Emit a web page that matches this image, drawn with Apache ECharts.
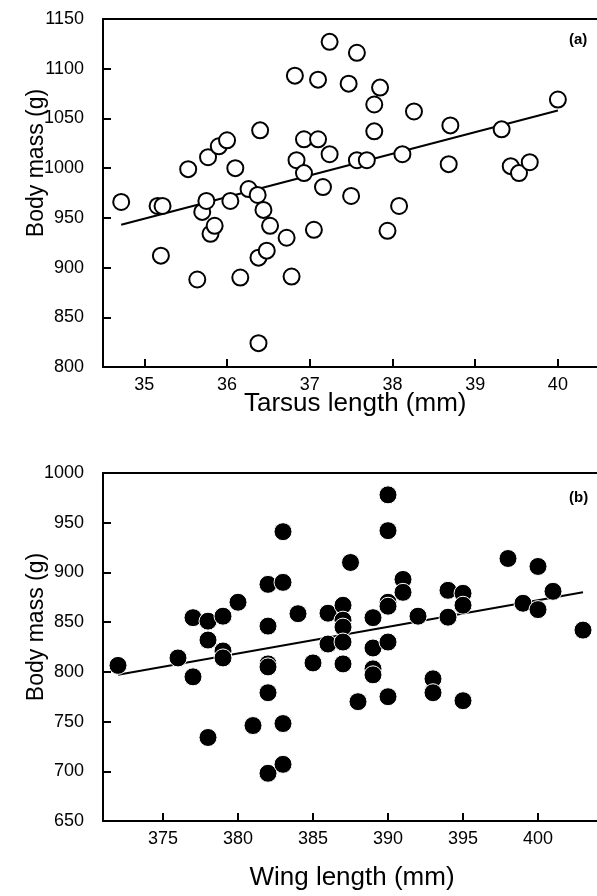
<!DOCTYPE html>
<html>
<head>
<meta charset="utf-8">
<script src="https://cdn.jsdelivr.net/npm/echarts@6/dist/echarts.min.js"></script>
<style>
  html, body { margin: 0; padding: 0; background: #fff; }
  #chart { width: 597px; height: 896px; }
</style>
</head>
<body>
<div id="chart"></div>
<script>
// panel (a): tarsus length (mm) vs body mass (g)
var tarsusX = [34.72, 35.16, 35.22, 35.20, 35.53, 35.64, 35.70, 35.75, 35.77, 35.80, 35.85, 35.90, 36.00, 36.04,
  36.10, 36.16, 36.26, 36.37, 36.38, 36.38, 36.40, 36.44, 36.48, 36.52, 36.72, 36.78, 36.82, 36.84, 36.93, 36.93,
  37.05, 37.10, 37.10, 37.16, 37.24, 37.24, 37.47, 37.50, 37.57, 37.57, 37.69, 37.78, 37.78, 37.85, 37.94, 38.08,
  38.12, 38.26, 38.68, 38.70, 39.32, 39.43, 39.53, 39.66, 40.00];
var tarsusMass = [966, 962, 962, 912, 999, 888, 956, 967, 1011, 934, 942, 1022, 1028, 967,
  1000, 890, 979, 973, 910, 824, 1038, 958, 917, 942, 930, 891, 1093, 1008, 995, 1029,
  938, 1089, 1029, 981, 1127, 1014, 1085, 972, 1116, 1008, 1008, 1064, 1037, 1081, 937, 962,
  1014, 1057, 1004, 1043, 1039, 1002, 995, 1006, 1069];
var tarsusFitX = [34.72, 40.0];
var tarsusFitY = [943, 1058];

// panel (b): wing length (mm) vs body mass (g)
var wingX = [372, 376, 377, 377, 378, 378, 378, 379, 379, 379, 380, 381, 382, 382, 382, 382, 382, 382,
  383, 383, 383, 383, 384, 385, 386, 386, 387, 387, 387, 387, 387, 387.5, 388, 389, 389, 389, 389,
  390, 390, 390, 390, 390, 390, 391, 391, 392, 393, 393, 394, 394, 395, 395, 395, 398, 399, 400, 400, 401, 403];
var wingMass = [806.5, 814, 795, 854.5, 851, 832, 734, 856, 821, 814, 870, 746, 888, 846, 808, 805, 779, 698,
  941, 890, 748, 707, 858.5, 809, 859, 828, 867, 852, 845, 830, 808, 910, 770, 854.5, 824, 803, 797,
  978, 942, 870, 866, 830, 775, 893, 880, 856, 793, 779, 882, 855, 879, 867, 771, 914, 869, 906, 862.6, 881, 842];
var wingFitX = [372, 403];
var wingFitY = [797, 880];

var tarsusTicks = [35, 36, 37, 38, 39, 40];
var wingTicks = [375, 380, 385, 390, 395, 400];

function pairs(xs, ys) {
  return xs.map(function (x, i) { return [x, ys[i]]; });
}

var font = 'Liberation Sans, Arial, Helvetica, sans-serif';

function xAxisOpt(idx, name, min, max, ticks, gap) {
  return {
    gridIndex: idx, type: 'value', min: min, max: max,
    name: name, nameLocation: 'middle', nameGap: gap, nameMoveOverlap: false,
    nameTextStyle: { fontFamily: font, fontSize: 26, color: '#000' },
    axisLine: { lineStyle: { color: '#000', width: 2 } },
    axisTick: { inside: true, length: 8, customValues: ticks, lineStyle: { color: '#000', width: 2 } },
    axisLabel: { customValues: ticks, margin: 9, fontFamily: font, fontSize: 18, color: '#000' },
    splitLine: { show: false }
  };
}

// top frame line only
function topAxisOpt(idx, min, max) {
  return {
    gridIndex: idx, type: 'value', position: 'top', min: min, max: max,
    axisLine: { show: true, lineStyle: { color: '#000', width: 2 } },
    axisTick: { show: false }, axisLabel: { show: false }, splitLine: { show: false }
  };
}

function yAxisOpt(idx, min, max, shift) {
  return {
    gridIndex: idx, type: 'value', min: min, max: max, interval: 50,
    name: 'Body mass (g)', nameLocation: 'middle', nameGap: 55, nameRotate: 90, nameMoveOverlap: false,
    nameTextStyle: { fontFamily: font, fontSize: 23, color: '#000', padding: [0, 0, 0, shift] },
    axisLine: { show: true, lineStyle: { color: '#000', width: 2 } },
    axisTick: { show: true, inside: true, length: 8, lineStyle: { color: '#000', width: 2 } },
    axisLabel: {
      margin: 19, fontFamily: font, fontSize: 18, color: '#000',
      formatter: function (v) { return String(v); }
    },
    splitLine: { show: false }
  };
}

var chart = echarts.init(document.getElementById('chart'));
chart.setOption({
  animation: false,
  backgroundColor: '#fff',
  title: [
    { text: '(a)', left: 564, top: 27, textStyle: { fontFamily: font, fontSize: 15, fontWeight: 'bold', color: '#000' } },
    { text: '(b)', left: 564, top: 485, textStyle: { fontFamily: font, fontSize: 15, fontWeight: 'bold', color: '#000' } }
  ],
  grid: [
    { left: 103, top: 19, width: 504.5, height: 348, outerBoundsMode: 'none' },
    { left: 103, top: 473, width: 498, height: 348, outerBoundsMode: 'none' }
  ],
  xAxis: [
    xAxisOpt(0, 'Tarsus length (mm)', 34.5, 40.6, tarsusTicks, 24),
    xAxisOpt(1, 'Wing length (mm)', 371, 404.2, wingTicks, 44),
    topAxisOpt(0, 34.5, 40.6),
    topAxisOpt(1, 371, 404.2)
  ],
  yAxis: [
    yAxisOpt(0, 800, 1150, 60),
    yAxisOpt(1, 650, 1000, 40)
  ],
  series: [
    {
      type: 'line', xAxisIndex: 0, yAxisIndex: 0, z: 1,
      data: pairs(tarsusFitX, tarsusFitY), symbol: 'none',
      lineStyle: { color: '#000', width: 2 }
    },
    {
      type: 'scatter', xAxisIndex: 0, yAxisIndex: 0, z: 2,
      data: pairs(tarsusX, tarsusMass), symbol: 'circle', symbolSize: 16,
      itemStyle: { color: '#fff', borderColor: '#000', borderWidth: 2, opacity: 1 }
    },
    {
      type: 'line', xAxisIndex: 1, yAxisIndex: 1, z: 1,
      data: pairs(wingFitX, wingFitY), symbol: 'none',
      lineStyle: { color: '#000', width: 2 }
    },
    {
      type: 'scatter', xAxisIndex: 1, yAxisIndex: 1, z: 2,
      data: pairs(wingX, wingMass), symbol: 'circle', symbolSize: 18,
      itemStyle: { color: '#000', borderColor: '#fff', borderWidth: 1, opacity: 1 }
    }
  ]
});
</script>
</body>
</html>
